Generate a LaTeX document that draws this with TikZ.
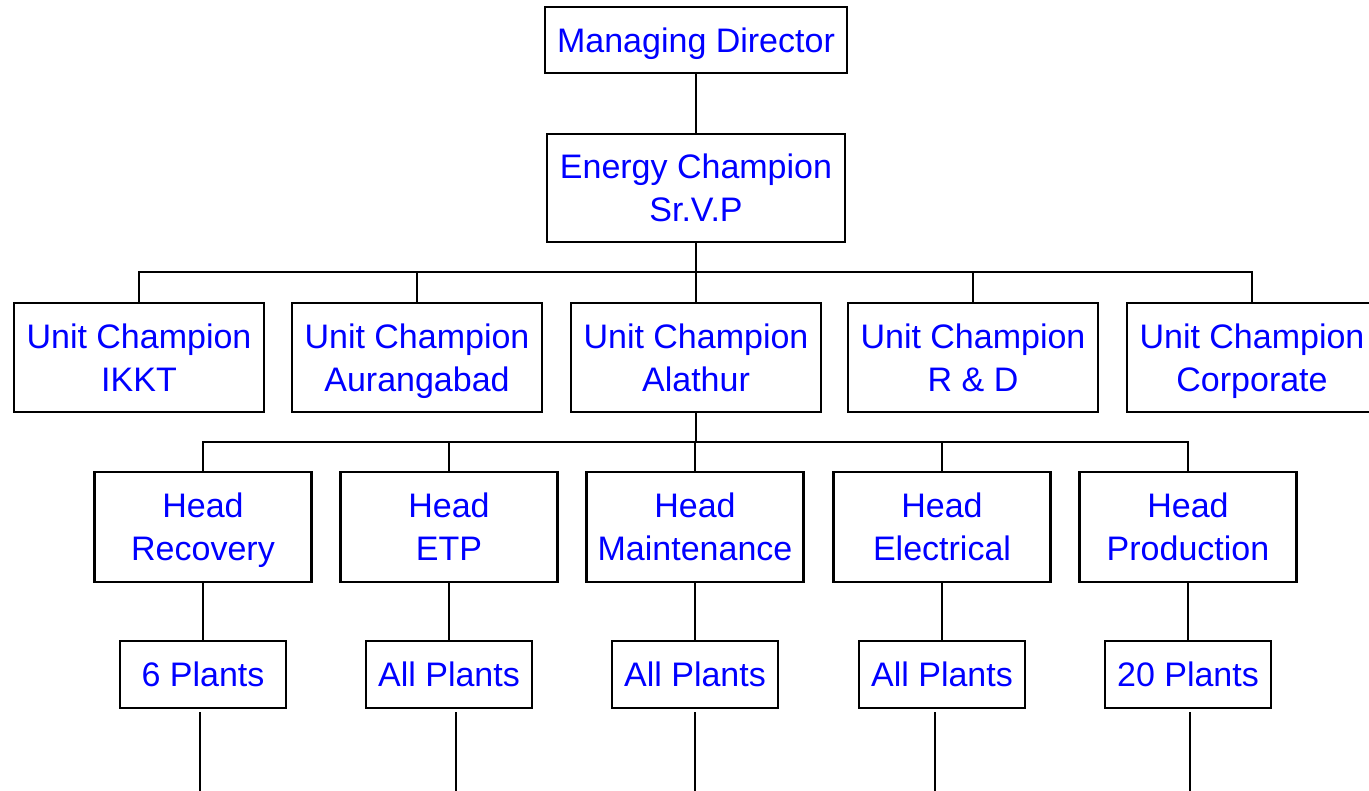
\documentclass[tikz,border=0pt]{standalone}
\usepackage{fontspec}
\setmainfont{Liberation Sans}
\begin{document}
\begin{tikzpicture}[x=0.5pt,y=-0.5pt,
  every node/.style={font=\fontsize{17}{21.5}\selectfont,text=blue,align=center},
  orgbox/.style={draw=black,line width=1.3pt,fill=white,inner sep=0pt,text depth=0pt},
  link/.style={draw=black,line width=1.1pt}]
  \useasboundingbox[fill=white] (0,0) rectangle (1369,791);
  % top of the chart
  \node[orgbox,minimum width=151pt,minimum height=33pt] (md) at (696,40) {Managing Director};
  \node[orgbox,minimum width=149pt,minimum height=54pt] (ec) at (696,188) {Energy Champion\\Sr.V.P};
  % unit champions
  \node[orgbox,minimum width=125pt,minimum height=54.5pt] (uc1) at (139,357.5) {Unit Champion\\IKKT};
  \node[orgbox,minimum width=125pt,minimum height=54.5pt] (uc2) at (417,357.5) {Unit Champion\\Aurangabad};
  \node[orgbox,minimum width=125pt,minimum height=54.5pt] (uc3) at (696,357.5) {Unit Champion\\Alathur};
  \node[orgbox,minimum width=125pt,minimum height=54.5pt] (uc4) at (973,357.5) {Unit Champion\\R \& D};
  \node[orgbox,minimum width=125pt,minimum height=54.5pt] (uc5) at (1252,357.5) {Unit Champion\\Corporate};
  % heads at Alathur
  \node[orgbox,minimum width=108.5pt,minimum height=55pt] (hd1) at (203,527) {Head\\Recovery};
  \node[orgbox,minimum width=108.5pt,minimum height=55pt] (hd2) at (449,527) {Head\\ETP};
  \node[orgbox,minimum width=108.5pt,minimum height=55pt] (hd3) at (695,527) {Head\\Maintenance};
  \node[orgbox,minimum width=108.5pt,minimum height=55pt] (hd4) at (942,527) {Head\\Electrical};
  \node[orgbox,minimum width=108.5pt,minimum height=55pt] (hd5) at (1188,527) {Head\\Production};
  % plants
  \node[orgbox,minimum width=83pt,minimum height=33.5pt] (pl1) at (203,674.5) {6 Plants};
  \node[orgbox,minimum width=83pt,minimum height=33.5pt] (pl2) at (449,674.5) {All Plants};
  \node[orgbox,minimum width=83pt,minimum height=33.5pt] (pl3) at (695,674.5) {All Plants};
  \node[orgbox,minimum width=83pt,minimum height=33.5pt] (pl4) at (942,674.5) {All Plants};
  \node[orgbox,minimum width=83pt,minimum height=33.5pt] (pl5) at (1188,674.5) {20 Plants};
  % bus points and loose line ends
  \coordinate (bus1) at (696,272); \coordinate (bus2) at (696,442);
  \coordinate (lt1) at (200,712); \coordinate (lb1) at (200,795);
  \coordinate (lt2) at (456,712); \coordinate (lb2) at (456,795);
  \coordinate (lt3) at (695,712); \coordinate (lb3) at (695,795);
  \coordinate (lt4) at (935,712); \coordinate (lb4) at (935,795);
  \coordinate (lt5) at (1190,712); \coordinate (lb5) at (1190,795);
  % connectors
  \draw[link] (md) -- (ec); \draw[link] (ec) -- (bus1);
  \draw[link] (uc1.north) |- (bus1); \draw[link] (uc2.north) |- (bus1); \draw[link] (uc3.north) |- (bus1);
  \draw[link] (uc4.north) |- (bus1); \draw[link] (uc5.north) |- (bus1);
  \draw[link] (uc3) -- (bus2);
  \draw[link] (hd1.north) |- (bus2); \draw[link] (hd2.north) |- (bus2); \draw[link] (hd3.north) |- (bus2);
  \draw[link] (hd4.north) |- (bus2); \draw[link] (hd5.north) |- (bus2);
  \draw[link] (hd1) -- (pl1); \draw[link] (hd2) -- (pl2); \draw[link] (hd3) -- (pl3);
  \draw[link] (hd4) -- (pl4); \draw[link] (hd5) -- (pl5);
  \draw[link] (lt1) -- (lb1); \draw[link] (lt2) -- (lb2); \draw[link] (lt3) -- (lb3);
  \draw[link] (lt4) -- (lb4); \draw[link] (lt5) -- (lb5);
\end{tikzpicture}
\end{document}
